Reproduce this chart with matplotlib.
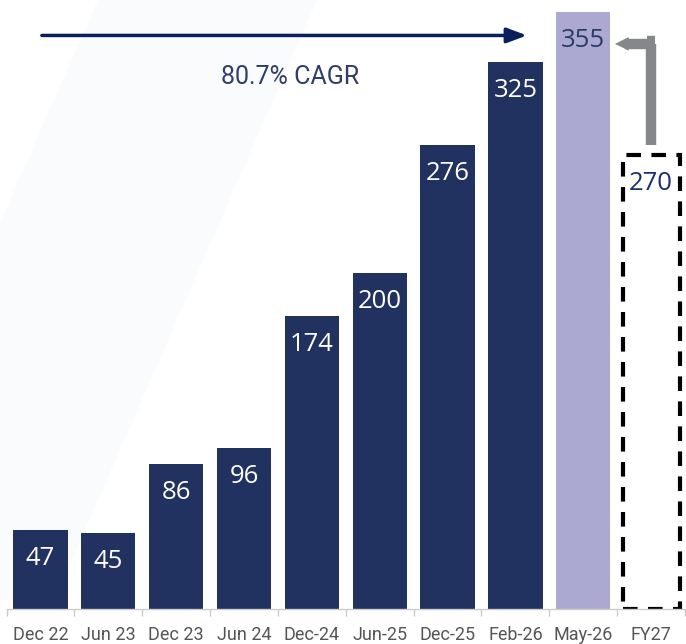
import numpy as np
import matplotlib.pyplot as plt
from matplotlib.patches import Polygon

# chart data
categories = ['Dec 22', 'Jun 23', 'Dec 23', 'Jun 24', 'Dec-24', 'Jun-25',
              'Dec-25', 'Feb-26', 'May-26', 'FY27']
values = [47, 45, 86, 96, 174, 200, 276, 325, 355, 270]
cagr_label = '80.7% CAGR'

navy = '#213260'
lavender = '#aba9d2'
bar_colors = [navy] * 8 + [lavender, 'none']
label_colors = ['white'] * 8 + ['#2b3a66', '#1b2f6e']

W, H = 686, 644
fig = plt.figure(figsize=(W / 100, H / 100), dpi=100)
fig.patch.set_facecolor('white')

# faint diagonal background band
band = Polygon([(0, 1 - 223 / H), (98 / W, 1), (317 / W, 1), (54 / W, 1 - 600 / H), (0, 1 - 600 / H)],
               closed=True, transform=fig.transFigure, facecolor='#fafbfd', edgecolor='none', zorder=-5)
fig.patches.append(band)

ax = fig.add_axes([6.6 / W, 35 / H, (685 - 6.6) / W, 609 / H])
ax.set_facecolor('none')
ax.set_zorder(1)

x = np.arange(len(categories))
ax.bar(x[:9], values[:9], width=0.8, color=bar_colors[:9], zorder=2)
ax.bar(x[9], values[9], width=0.84, facecolor='none', edgecolor='black',
       linewidth=3, linestyle=(0, (3.5, 2.5)), zorder=2)

ax.set_xlim(-0.5, len(categories) - 0.5)
ax.set_ylim(0, 609 / 1.682)

for xi, v, c in zip(x, values, label_colors):
    ax.annotate(str(v), (xi, v), xytext=(0, -20.5), textcoords='offset points',
                ha='center', va='center', fontsize=18.5, color=c,
                family='Open Sans', zorder=3)

# CAGR arrow
ax.annotate('', xy=(7.17, 341), xytext=(0.02, 341),
            arrowprops=dict(arrowstyle='-|>,head_length=1.2,head_width=0.45',
                            color='#0b1f5c', lw=2.5, shrinkA=0, shrinkB=0), zorder=4)
ax.text(3.68, 316, cagr_label, ha='center', va='center', fontsize=18,
        color='#2f3e6a', family='Roboto')

# gray elbow arrow from FY27 to May-26
gx = x[9]
gy = 336
ax.plot([gx, gx], [276, gy], color='#86878c', lw=7.5, solid_capstyle='butt', zorder=4)
ax.plot([gx + 0.05, 8.62], [gy, gy], color='#86878c', lw=7.5, solid_capstyle='butt', zorder=4)
ax.plot([gx - 0.055, gx + 0.055], [gy + 1.6, gy + 1.6], color='#86878c', lw=7.5,
        solid_capstyle='butt', zorder=4)
ax.annotate('', xy=(8.47, gy), xytext=(8.72, gy),
            arrowprops=dict(arrowstyle='-|>,head_length=0.9,head_width=0.45',
                            color='#86878c', lw=0.5, shrinkA=0, shrinkB=0), zorder=4)

for side in ['top', 'right', 'left']:
    ax.spines[side].set_visible(False)
ax.spines['bottom'].set_color('#cccccc')
ax.spines['bottom'].set_linewidth(1)

ax.set_yticks([])
ax.set_xticks(np.arange(-0.5, len(categories), 1.0), minor=False)
ax.set_xticklabels([])
ax.set_xticks(x, minor=True)
ax.set_xticklabels(categories, minor=True)
ax.tick_params(axis='x', which='major', length=5, color='#cccccc', width=1)
ax.tick_params(axis='x', which='minor', length=0, pad=12, labelsize=13, labelcolor='#555555')
for lbl in ax.get_xticklabels(minor=True):
    lbl.set_family('Roboto')

fig.savefig('out.png', dpi=100)
